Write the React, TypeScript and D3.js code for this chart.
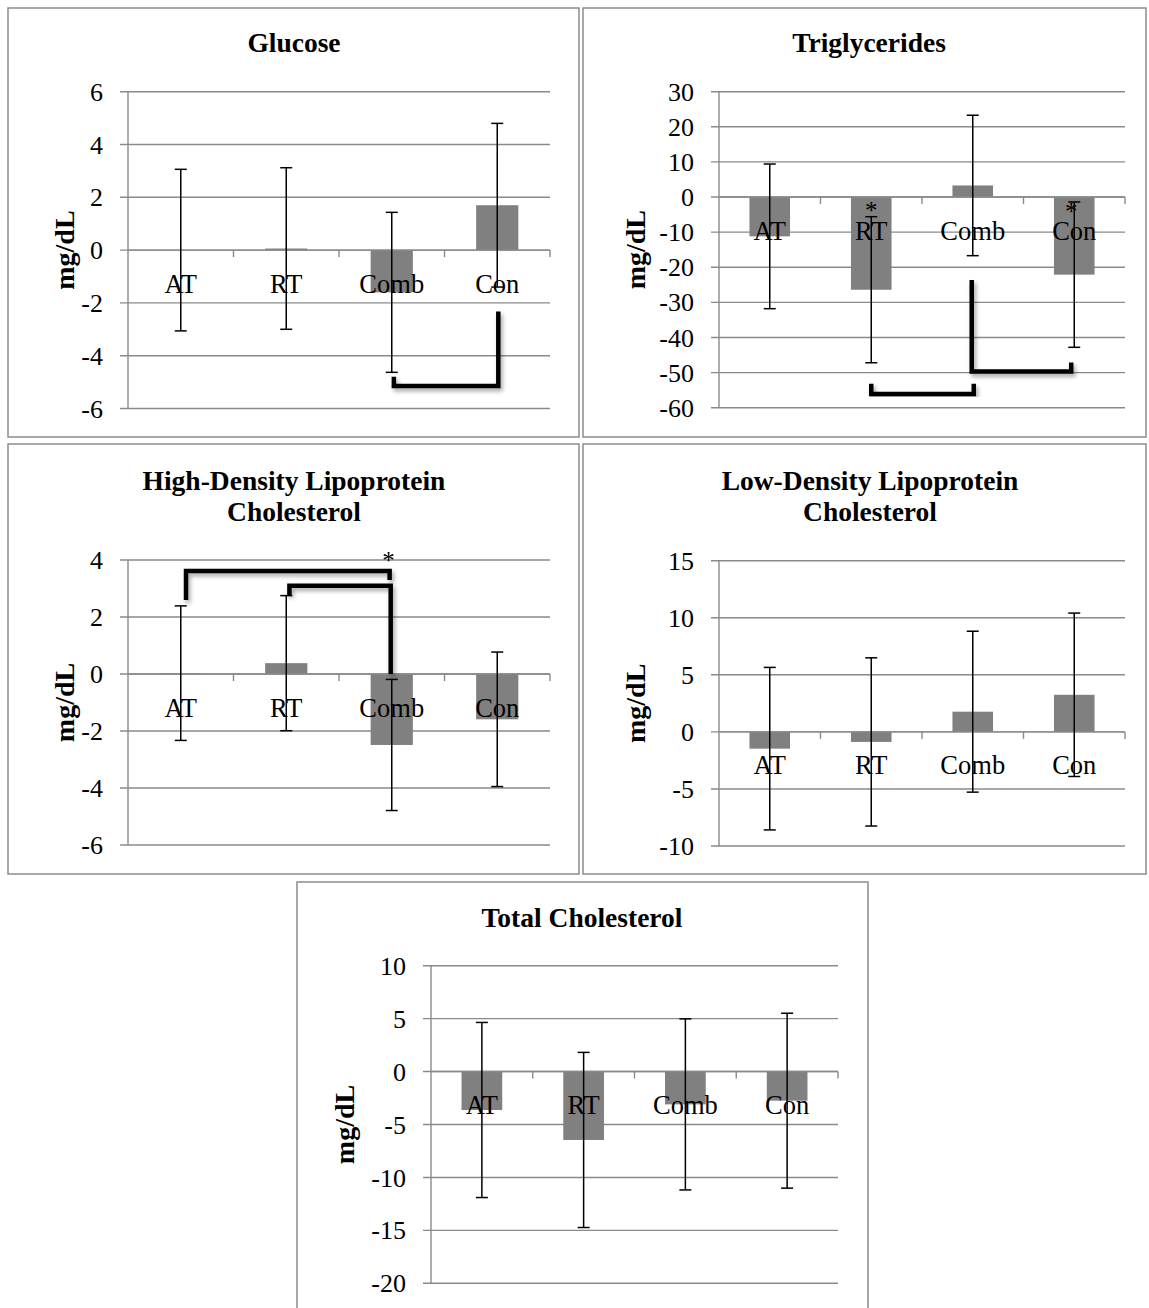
import React from "react";
import * as d3 from "d3";

const categories = ["AT", "RT", "Comb", "Con"];

const glucoseMeans = [0.0, 0.06, -1.6, 1.7];
const glucoseErrors = [3.06, 3.06, 3.03, 3.1];
const glucoseTicks = [6, 4, 2, 0, -2, -4, -6];

const triglycerideMeans = [-11.2, -26.4, 3.3, -22.1];
const triglycerideErrors = [20.6, 20.8, 20.0, 20.7];
const triglycerideTicks = [30, 20, 10, 0, -10, -20, -30, -40, -50, -60];

const hdlMeans = [0.03, 0.38, -2.49, -1.59];
const hdlErrors = [2.36, 2.37, 2.3, 2.36];
const hdlTicks = [4, 2, 0, -2, -4, -6];

const ldlMeans = [-1.47, -0.88, 1.77, 3.25];
const ldlErrors = [7.12, 7.37, 7.05, 7.16];
const ldlTicks = [15, 10, 5, 0, -5, -10];

const totalMeans = [-3.63, -6.46, -3.1, -2.75];
const totalErrors = [8.27, 8.27, 8.08, 8.26];
const totalTicks = [10, 5, 0, -5, -10, -15, -20];

// significance brackets, points as [category index, value]
const glucoseBrackets = [
  [[2.02, -4.8], [2.02, -5.15], [3.01, -5.15], [3.01, -2.33]],
];
const triglycerideBrackets = [
  [[1.0, -53.2], [1.0, -56.1], [2.01, -56.1], [2.01, -53.2]],
  [[1.99, -23.6], [1.99, -49.7], [2.97, -49.7], [2.97, -47.1]],
];
const hdlBrackets = [
  [[0.05, 2.6], [0.05, 3.61], [1.98, 3.61], [1.98, 3.3]],
  [[1.03, 2.77], [1.03, 3.1], [1.99, 3.1], [1.99, 0.0]],
];
const triglycerideStars = [[1.0, -2.7], [2.97, -3.1]];
const hdlStars = [[1.97, 4.12]];

const FONT = "'Liberation Serif', 'Times New Roman', serif";
const GRID = "#8a8a8a";

type PanelProps = {
  title: string[];
  means: number[];
  errors: number[];
  ticks: number[];
  brackets: number[][][];
  stars: number[][];
  frame: [number, number, number, number];
  plot: { left: number; right: number; top: number; bottom: number };
  titleX: number;
  titleY: number[];
  labelX: number;
};

function Panel(p: PanelProps) {
  const yMax = d3.max(p.ticks) as number;
  const yMin = d3.min(p.ticks) as number;
  const y = d3.scaleLinear().domain([yMin, yMax]).range([p.plot.bottom, p.plot.top]);
  const x = d3.scaleBand<string>().domain(categories).range([p.plot.left, p.plot.right]).padding(0);
  const bw = x.bandwidth();
  const barW = bw * 0.4;
  const cx = (i: number) => p.plot.left + (i + 0.5) * bw;
  const y0 = y(0);
  const line = d3
    .line<number[]>()
    .x((d) => cx(d[0]))
    .y((d) => y(d[1]));
  const [fx0, fy0, fx1, fy1] = p.frame;
  return (
    <g>
      <rect x={fx0} y={fy0} width={fx1 - fx0} height={fy1 - fy0} fill="#fff" stroke="#8c8c8c" strokeWidth={1.5} />
      {p.title.map((t, i) => (
        <text key={i} x={p.titleX} y={p.titleY[i]} textAnchor="middle" fontFamily={FONT} fontWeight="bold" fontSize={27.5} fill="#000">
          {t}
        </text>
      ))}
      {p.ticks.map((t) => (
        <line key={"g" + t} x1={p.plot.left - 8} x2={p.plot.right} y1={y(t)} y2={y(t)} stroke={GRID} strokeWidth={1.4} />
      ))}
      {p.ticks.map((t) => (
        <text key={"t" + t} x={p.plot.left - 25} y={y(t)} dy="0.35em" textAnchor="end" fontFamily={FONT} fontSize={26} fill="#000">
          {t}
        </text>
      ))}
      {categories.map((c, i) => {
        const v = p.means[i];
        return (
          <rect key={"b" + c} x={cx(i) - barW / 2} width={barW} y={Math.min(y(v), y0)} height={Math.abs(y(v) - y0)} fill="#808080" />
        );
      })}
      <line x1={p.plot.left} x2={p.plot.left} y1={p.plot.top} y2={p.plot.bottom} stroke={GRID} strokeWidth={1.4} />
      <line x1={p.plot.left} x2={p.plot.right} y1={y0} y2={y0} stroke={GRID} strokeWidth={1.4} />
      {categories.map((c, i) => (
        <line key={"k" + c} x1={p.plot.left + (i + 1) * bw} x2={p.plot.left + (i + 1) * bw} y1={y0} y2={y0 + 7} stroke={GRID} strokeWidth={1.4} />
      ))}
      {categories.map((c, i) => (
        <text key={"c" + c} x={cx(i)} y={y0 + 42.5} textAnchor="middle" fontFamily={FONT} fontSize={26.5} fill="#000">
          {c}
        </text>
      ))}
      {categories.map((c, i) => {
        const hi = y(p.means[i] + p.errors[i]);
        const lo = y(p.means[i] - p.errors[i]);
        const xc = cx(i);
        return (
          <g key={"e" + c} stroke="#000" strokeWidth={1.5}>
            <line x1={xc} x2={xc} y1={hi} y2={lo} />
            <line x1={xc - 6} x2={xc + 6} y1={hi} y2={hi} />
            <line x1={xc - 6} x2={xc + 6} y1={lo} y2={lo} />
          </g>
        );
      })}
      {p.brackets.map((b, i) => (
        <path key={"br" + i} d={line(b) as string} fill="none" stroke="#000" strokeWidth={4.5} strokeLinejoin="miter" filter="url(#shadow)" />
      ))}
      {p.stars.map((s, i) => (
        <text key={"s" + i} x={cx(s[0])} y={y(s[1]) + 12} textAnchor="middle" fontFamily={FONT} fontSize={25} fill="#000">
          *
        </text>
      ))}
      <text
        transform={`translate(${p.labelX},${(p.plot.top + p.plot.bottom) / 2}) rotate(-90)`}
        textAnchor="middle"
        dominantBaseline="central"
        fontFamily={FONT}
        fontWeight="bold"
        fontSize={28}
        fill="#000"
      >
        mg/dL
      </text>
    </g>
  );
}

export default function App() {
  return (
    <svg width={1149} height={1308} style={{ position: "absolute", left: 0, top: 0, background: "#fff" }}>
      <defs>
        <filter id="shadow" x="-20%" y="-20%" width="140%" height="140%">
          <feDropShadow dx="2" dy="3" stdDeviation="2" floodColor="#000" floodOpacity="0.35" />
        </filter>
      </defs>
      <rect x={0} y={0} width={1149} height={1308} fill="#fff" />
      <Panel
        title={["Glucose"]}
        means={glucoseMeans}
        errors={glucoseErrors}
        ticks={glucoseTicks}
        brackets={glucoseBrackets}
        stars={[]}
        frame={[8, 8, 579, 437]}
        plot={{ left: 128, right: 550, top: 91.7, bottom: 408.5 }}
        titleX={294}
        titleY={[52]}
        labelX={64}
      />
      <Panel
        title={["Triglycerides"]}
        means={triglycerideMeans}
        errors={triglycerideErrors}
        ticks={triglycerideTicks}
        brackets={triglycerideBrackets}
        stars={triglycerideStars}
        frame={[583, 8, 1146, 437]}
        plot={{ left: 719, right: 1125, top: 91.7, bottom: 407.7 }}
        titleX={869}
        titleY={[52]}
        labelX={635}
      />
      <Panel
        title={["High-Density Lipoprotein", "Cholesterol"]}
        means={hdlMeans}
        errors={hdlErrors}
        ticks={hdlTicks}
        brackets={hdlBrackets}
        stars={hdlStars}
        frame={[8, 444, 579, 874]}
        plot={{ left: 128, right: 550, top: 560, bottom: 845 }}
        titleX={294}
        titleY={[490, 521]}
        labelX={64}
      />
      <Panel
        title={["Low-Density Lipoprotein", "Cholesterol"]}
        means={ldlMeans}
        errors={ldlErrors}
        ticks={ldlTicks}
        brackets={[]}
        stars={[]}
        frame={[583, 444, 1146, 874]}
        plot={{ left: 719, right: 1125, top: 560.7, bottom: 846 }}
        titleX={870}
        titleY={[490, 521]}
        labelX={635}
      />
      <Panel
        title={["Total Cholesterol"]}
        means={totalMeans}
        errors={totalErrors}
        ticks={totalTicks}
        brackets={[]}
        stars={[]}
        frame={[297, 882, 868, 1330]}
        plot={{ left: 431, right: 838, top: 965.7, bottom: 1283.3 }}
        titleX={582}
        titleY={[927]}
        labelX={344}
      />
    </svg>
  );
}
